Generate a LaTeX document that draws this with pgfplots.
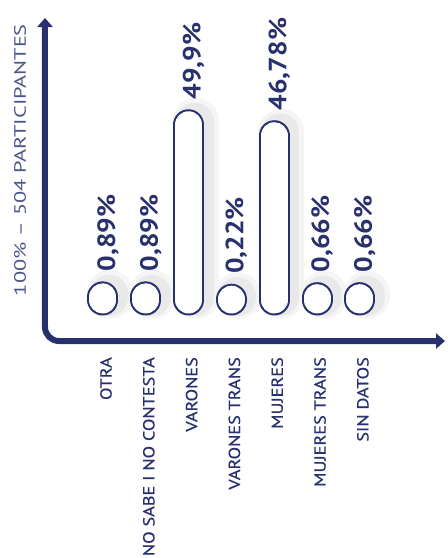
\documentclass[border=0pt]{standalone}
\usepackage{pgfplots}
\pgfplotsset{compat=1.18}
\usepackage{fontspec}
\setmainfont{PT Sans}
\newfontfamily\tickfont[FakeStretch=1.14, FakeBold=0.6]{PT Sans}
\newfontfamily\ylfont[FakeStretch=1.35]{PT Sans}
\newfontfamily\valfont[FakeStretch=1.1]{PT Sans}
\usetikzlibrary{arrows.meta}
\definecolor{navy}{HTML}{28306E}
\definecolor{lbl}{HTML}{4A5688}
\pgfplotstableread{
x y
0 0.89
1 0.89
2 49.9
3 0.22
4 46.78
5 0.66
6 0.66
}\datatable
\begin{document}
\begin{tikzpicture}
\begin{axis}[
  scale only axis, width=400pt, height=323pt,
  xmin=-1.355, xmax=7.99, ymin=-11.68, ymax=80.3,
  clip=false,
  axis line style={draw=none},
  tick style={draw=none},
  ytick=\empty,
  xtick={0,...,6},
  xticklabels={OTRA, NO SABE I NO CONTESTA, VARONES, VARONES TRANS, MUJERES, MUJERES TRANS, SIN DATOS},
  x tick label style={rotate=90, anchor=east, font=\tickfont\fontsize{16}{16}\selectfont, text=navy, inner sep=0pt, xshift=-16pt, yshift=-3pt},
  ylabel={100\% – 504 PARTICIPANTES},
  ylabel style={at={(rel axis cs:-0.0625,0.56)}, anchor=center, font=\ylfont\fontsize{16.5}{16.5}\selectfont, text=lbl},
  /pgf/number format/assume math mode=true,
]
% soft shadow layers
\addplot[ycomb, black, opacity=0.04, line width=46pt, line cap=round, xshift=7pt, yshift=4pt] table[x=x,y=y]{\datatable};
\addplot[ycomb, black, opacity=0.05, line width=38pt, line cap=round, xshift=6pt, yshift=3pt] table[x=x,y=y]{\datatable};
\addplot[ycomb, navy, line width=31pt, line cap=round] table[x=x,y=y]{\datatable};
\addplot[ycomb, white, line width=27pt, line cap=round,
  point meta=y,
  nodes near coords={\pgfmathprintnumber[use comma, fixed, precision=2, assume math mode=true]{\pgfplotspointmeta}\%},
  every node near coord/.append style={rotate=90, anchor=west, inner xsep=12pt, inner ysep=0pt, yshift=-5pt, text=navy, font=\valfont\fontsize{25}{25}\bfseries\selectfont},
] table[x=x,y=y]{\datatable};
\draw[navy, line width=6pt, rounded corners=14pt, {Triangle[length=9pt,width=15pt]}-{Triangle[length=9pt,width=15pt]}]
  (rel axis cs:0,1) -- (rel axis cs:0,0) -- (rel axis cs:1,0);
\end{axis}
\pgfresetboundingbox
\path[use as bounding box] (-45pt,-217pt) rectangle (403pt,341pt);
\end{tikzpicture}
\end{document}
